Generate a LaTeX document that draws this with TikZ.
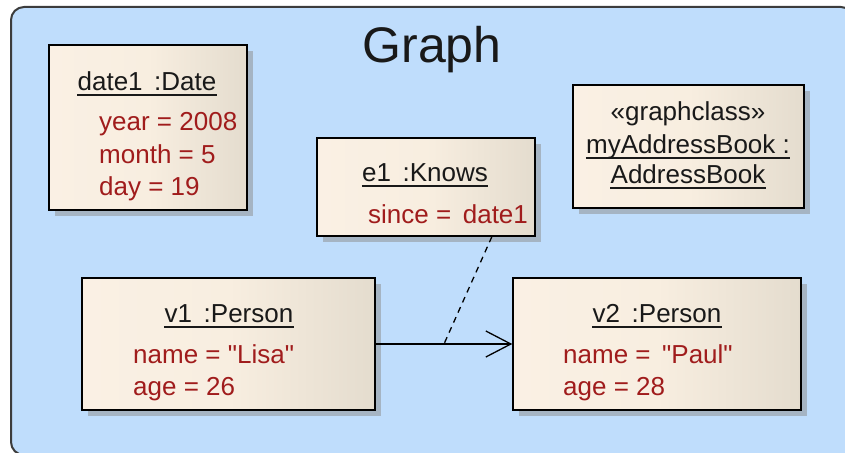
\documentclass[tikz,border=0pt]{standalone}
\usepackage{fontspec}
\setmainfont{Liberation Sans}
\usetikzlibrary{arrows.meta,shadows,calc}

\definecolor{graphblue}{RGB}{191,221,252}
\definecolor{framegray}{RGB}{60,60,60}
\definecolor{boxL}{RGB}{250,240,228}
\definecolor{boxM}{RGB}{248,238,224}
\definecolor{boxR}{RGB}{228,220,206}
\definecolor{attrred}{RGB}{160,28,28}
\definecolor{headtext}{RGB}{25,25,25}

\tikzset{
  objbox/.style={draw=black, line width=1.5pt, rectangle, inner sep=0pt,
    left color=boxL, right color=boxR, middle color=boxM,
    drop shadow={shadow xshift=6pt, shadow yshift=-6pt, fill=black!45, opacity=0.5}},
  headtxt/.style={anchor=base, inner sep=0pt, text=headtext,
    font=\fontsize{26}{30}\selectfont},
  attrtxt/.style={anchor=base west, inner sep=0pt, text=attrred,
    font=\fontsize{26}{30}\selectfont},
  uline/.style={line width=1.5pt, headtext},
  link/.style={line width=1.3pt, black},
}

% straight double quote glyph, bypassing the TeX quote mapping
\newcommand{\dq}{\XeTeXglyph\XeTeXcharglyph"22\relax}
\newcommand{\underl}[1]{\draw[uline] ([yshift=-5pt]#1.base west) -- ([yshift=-5pt]#1.base east);}

\begin{document}
\begin{tikzpicture}[x=1pt,y=-1pt]
\useasboundingbox (0,0) rectangle (845,452);
\clip (0,0) rectangle (845,452);

% package frame
\draw[fill=graphblue, draw=framegray, line width=2pt, rounded corners=13pt]
  (11,7) rectangle (854,455);
\node[anchor=base, inner sep=0pt, font=\fontsize{50}{60}\selectfont, text=black!90]
  (title) at (432,63) {Graph};

% object boxes
\node[objbox, minimum width=198pt, minimum height=165pt] (date1) at (148,127.5) {};
\node[objbox, minimum width=218pt, minimum height=98pt]  (e1)    at (426,187) {};
\node[objbox, minimum width=231pt, minimum height=123pt] (book)  at (688.5,146.5) {};
\node[objbox, minimum width=293pt, minimum height=132pt] (v1)    at (228.5,344) {};
\node[objbox, minimum width=288pt, minimum height=132pt] (v2)    at (657,344) {};

% date1 : Date
\node[headtxt] (date1h) at (147,90) {date1 \,:Date};
\underl{date1h}
\node[attrtxt] (date1a) at (99,130) {year = 2008};
\node[attrtxt] (date1b) at (99,163) {month = 5};
\node[attrtxt] (date1c) at (99,195) {day = 19};

% e1 : Knows
\node[headtxt] (e1h) at (425,181) {e1 \,:Knows};
\underl{e1h}
\node[attrtxt] (e1a) at (368,223) {since = \,date1};

% graph class instance
\node[headtxt] (bookst) at (688,120) {«graphclass»};
\node[headtxt] (bookn1) at (688,153) {myAddressBook :};
\underl{bookn1}
\node[headtxt] (bookn2) at (688,183) {AddressBook};
\underl{bookn2}

% v1 : Person
\node[headtxt] (v1h) at (229,322) {v1 \,:Person};
\underl{v1h}
\node[attrtxt] (v1a) at (133,363) {name = \dq Lisa\dq};
\node[attrtxt] (v1b) at (133,395) {age = 26};

% v2 : Person
\node[headtxt] (v2h) at (657,322) {v2 \,:Person};
\underl{v2h}
\node[attrtxt] (v2a) at (563,363) {name = \,\dq Paul\dq};
\node[attrtxt] (v2b) at (563,395) {age = 28};

% link v1 -> v2 and its association-class attachment
\draw[link, -{Straight Barb[length=25pt,width=26pt]}] (v1.east) -- (v2.west);
\coordinate (knfoot) at ($(e1.south west)!0.8!(e1.south east)$);
\coordinate (linkmid) at ($(v1.east)!0.5!(v2.west)$);
\draw[link, dash pattern=on 6pt off 5pt] (knfoot) -- (linkmid);
\end{tikzpicture}
\end{document}
